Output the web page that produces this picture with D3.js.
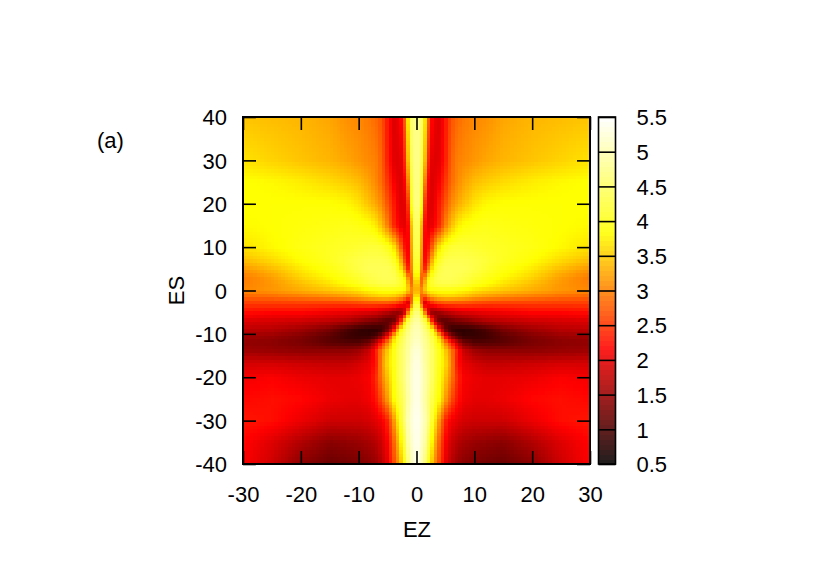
<!DOCTYPE html>
<html>
<head>
<meta charset="utf-8">
<script src="https://cdn.jsdelivr.net/npm/d3@7"></script>
<style>
body { margin: 0; background: #fff; }
text { font-family: "Liberation Sans", Arial, sans-serif; fill: #000; }
</style>
</head>
<body>
<script>
// values; the map is mirror symmetric in EZ
var ezKnots = [0, 0.5, 1, 1.5, 2, 2.5, 3, 4, 5, 6, 7, 8, 10, 12, 15, 20, 25, 30];
var esKnots = [40, 30, 25, 20, 15, 10, 7, 5, 3, 1.5, 0, -1.5, -3, -5, -7, -9, -10.5, -12, -14, -17, -20, -25, -30, -35, -40];
var values = [
    [4.7,4.7,4.5,3.7,2.9,2.3,2.05,1.95,2.3,2.7,2.85,2.95,3.05,3.1,3.25,3.35,3.4,3.45],
    [4.7,4.7,4.3,3.4,2.5,2.05,1.95,2.0,2.35,2.8,3.0,3.05,3.15,3.25,3.35,3.45,3.55,3.65],
    [4.7,4.65,4.1,3.0,2.2,1.95,1.95,2.15,2.5,2.85,3.05,3.2,3.4,3.5,3.6,3.72,3.8,3.85],
    [4.7,4.6,3.9,2.5,2.0,1.95,2.0,2.35,2.7,3.05,3.25,3.4,3.65,3.8,3.85,3.85,3.85,3.85],
    [4.6,4.3,3.2,2.2,2.0,2.0,2.1,2.45,3.0,3.4,3.7,3.85,3.95,4.0,3.95,3.9,3.85,3.8],
    [4.5,4.2,3.0,2.15,2.2,2.6,3.05,3.7,4.0,4.15,4.2,4.2,4.15,4.1,4.05,3.95,3.8,3.65],
    [4.4,4.0,2.9,2.2,2.5,3.1,3.6,4.1,4.3,4.35,4.35,4.35,4.3,4.2,4.05,3.85,3.6,3.4],
    [4.2,3.9,2.8,2.4,3.0,3.5,3.9,4.3,4.4,4.4,4.4,4.4,4.3,4.15,3.95,3.7,3.4,3.15],
    [4.0,3.5,2.6,3.1,3.7,4.0,4.2,4.4,4.4,4.4,4.35,4.3,4.15,4.0,3.8,3.55,3.2,2.95],
    [3.8,3.2,2.8,3.4,3.9,4.1,4.2,4.3,4.3,4.3,4.25,4.2,4.0,3.85,3.65,3.4,3.15,3.0],
    [3.5,3.2,3.1,3.5,3.75,3.85,3.85,3.9,3.9,3.9,3.85,3.8,3.65,3.55,3.45,3.3,3.15,3.05],
    [4.0,3.4,2.6,2.7,3.0,3.2,3.3,3.45,3.5,3.5,3.45,3.4,3.25,3.15,3.05,2.95,2.85,2.8],
    [4.4,3.9,2.6,1.9,2.1,2.3,2.45,2.6,2.65,2.65,2.65,2.65,2.6,2.55,2.55,2.55,2.55,2.55],
    [4.7,4.5,3.9,2.9,1.9,1.5,1.4,1.55,1.7,1.8,1.9,1.95,2.0,2.05,2.1,2.2,2.2,2.25],
    [4.9,4.85,4.6,4.3,3.7,2.8,1.9,1.15,1.1,1.2,1.3,1.35,1.5,1.65,1.75,1.85,1.9,1.95],
    [5.0,5.0,4.85,4.6,4.4,4.1,3.6,2.1,1.2,0.85,0.8,0.8,0.85,1.0,1.3,1.55,1.7,1.75],
    [5.05,5.05,4.9,4.75,4.55,4.35,4.15,3.35,2.2,1.4,1.0,0.85,0.85,0.9,1.1,1.35,1.5,1.55],
    [5.15,5.1,4.95,4.8,4.65,4.45,4.25,3.75,3.05,2.4,1.8,1.3,1.05,1.05,1.1,1.3,1.4,1.45],
    [5.25,5.2,5.05,4.85,4.7,4.55,4.35,3.95,3.5,3.0,2.35,1.85,1.55,1.45,1.45,1.45,1.5,1.55],
    [5.35,5.25,5.1,4.9,4.7,4.55,4.35,3.95,3.6,3.1,2.3,2.05,1.9,1.8,1.8,1.85,1.9,1.9],
    [5.35,5.3,5.15,4.95,4.75,4.55,4.35,3.9,3.45,3.0,2.45,2.15,2.05,2.0,2.0,2.05,2.15,2.1],
    [5.35,5.3,5.1,4.9,4.65,4.4,4.2,3.8,3.2,2.7,2.3,2.1,2.0,2.0,2.05,2.2,2.25,2.2],
    [5.4,5.35,5.2,5.0,4.7,4.3,3.9,3.1,2.4,2.1,2.0,1.9,1.85,1.85,1.85,2.05,2.25,2.3],
    [5.4,5.3,5.1,4.9,4.4,3.95,3.5,2.75,2.15,1.85,1.7,1.6,1.5,1.45,1.4,1.65,1.95,2.2],
    [5.35,5.25,5.0,4.6,4.1,3.6,3.2,2.6,2.0,1.7,1.5,1.4,1.3,1.25,1.2,1.4,1.85,2.15]
];
var ezTicks = [-30, -20, -10, 0, 10, 20, 30];
var esTicks = [-40, -30, -20, -10, 0, 10, 20, 30, 40];
var cbTicks = [0.5, 1, 1.5, 2, 2.5, 3, 3.5, 4, 4.5, 5, 5.5];

var outerWidth = 830;
var outerHeight = 582;
var plotLeft = 243;
var plotRight = 590;
var plotTop = 117;
var plotBottom = 464;
var barLeft = 598.5;
var barRight = 615.5;
var tickLength = 13;
var fontSize = 22;
var cellsPerSide = 100;
var barSteps = 70;

var x = d3.scaleLinear().domain([-30, 30]).range([plotLeft, plotRight]);
var y = d3.scaleLinear().domain([-40, 40]).range([plotBottom, plotTop]);
var cbY = d3.scaleLinear().domain([0.5, 5.5]).range([plotBottom, plotTop]);

// gnuplot's hot palette
var color = d3.scaleLinear()
    .domain([0.5, 0.5 + 5 / 3, 0.5 + 10 / 3, 5.5])
    .range(["#000000", "#ff0000", "#ffff00", "#ffffff"])
    .clamp(true);

// the colour box in the reference is slightly lifted from pure black
function barColor(v) {
    var c = d3.rgb(color(v));
    var lift = function(ch) { return ch + 30 * (1 - ch / 255); };
    return d3.rgb(lift(c.r), lift(c.g), lift(c.b));
}

// the knots are irregular, so each drawn cell shades between its nearest knots
var ezIndex = d3.scaleLinear().domain(ezKnots).range(d3.range(ezKnots.length));
var esIndex = d3.scaleLinear().domain(esKnots).range(d3.range(esKnots.length));
function lookup(ez, es) {
    var a = ezIndex(Math.abs(ez));
    var b = esIndex(es);
    var a0 = Math.min(Math.floor(a), ezKnots.length - 2);
    var b0 = Math.min(Math.floor(b), esKnots.length - 2);
    var top = d3.interpolateNumber(values[b0][a0], values[b0][a0 + 1])(a - a0);
    var bottom = d3.interpolateNumber(values[b0 + 1][a0], values[b0 + 1][a0 + 1])(a - a0);
    return d3.interpolateNumber(top, bottom)(b - b0);
}

var cells = [];
d3.range(cellsPerSide).forEach(function(i) {
    d3.range(cellsPerSide).forEach(function(j) {
        cells.push({ i: i, j: j });
    });
});
var cellEz = d3.scaleLinear().domain([0, cellsPerSide]).range([-30, 30]);
var cellEs = d3.scaleLinear().domain([0, cellsPerSide]).range([40, -40]);

var svg = d3.select("body").append("svg")
    .attr("width", outerWidth)
    .attr("height", outerHeight)
    .style("display", "block");

svg.append("g").selectAll("rect")
    .data(cells)
    .enter()
    .append("rect")
    .attr("shape-rendering", "crispEdges")
    .attr("x", function(d) { return x(cellEz(d.i)); })
    .attr("y", function(d) { return y(cellEs(d.j)); })
    .attr("width", function(d) { return x(cellEz(d.i + 1)) - x(cellEz(d.i)) + 0.5; })
    .attr("height", function(d) { return y(cellEs(d.j + 1)) - y(cellEs(d.j)) + 0.5; })
    .attr("fill", function(d) { return color(lookup(cellEz(d.i + 0.5), cellEs(d.j + 0.5))); });

/******************************
/* colour box
******************************/
var barStep = d3.scaleLinear().domain([0, barSteps]).range([0.5, 5.5]);
svg.append("g").selectAll("rect")
    .data(d3.range(barSteps))
    .enter()
    .append("rect")
    .attr("shape-rendering", "crispEdges")
    .attr("x", barLeft)
    .attr("y", function(d) { return cbY(barStep(d + 1)); })
    .attr("width", barRight - barLeft)
    .attr("height", function(d) { return cbY(barStep(d)) - cbY(barStep(d + 1)) + 0.5; })
    .attr("fill", function(d) { return barColor(barStep(d + 0.5)); });

/******************************
/* axes, ticks on all four sides
******************************/
function plain(d) { return d; }

function styleAxis(g) {
    g.select(".domain").remove();
    g.selectAll(".tick line").attr("stroke", "#000").attr("stroke-width", 1.6);
    g.selectAll(".tick text").style("font-size", fontSize + "px").style("font-family", null);
    g.attr("font-family", null).attr("font-size", null);
}

svg.append("g")
    .attr("transform", "translate(0," + plotBottom + ")")
    .call(d3.axisBottom(x).tickValues(ezTicks).tickFormat(plain).tickSize(-tickLength).tickPadding(30))
    .call(styleAxis);
svg.append("g")
    .attr("transform", "translate(0," + plotTop + ")")
    .call(d3.axisTop(x).tickValues(ezTicks).tickFormat("").tickSize(-tickLength))
    .call(styleAxis);
svg.append("g")
    .attr("transform", "translate(" + plotLeft + ",0)")
    .call(d3.axisLeft(y).tickValues(esTicks).tickFormat(plain).tickSize(-tickLength).tickPadding(16))
    .call(styleAxis);
svg.append("g")
    .attr("transform", "translate(" + plotRight + ",0)")
    .call(d3.axisRight(y).tickValues(esTicks).tickFormat("").tickSize(-tickLength))
    .call(styleAxis);
svg.append("g")
    .attr("transform", "translate(" + barRight + ",0)")
    .call(d3.axisRight(cbY).tickValues(cbTicks).tickFormat(plain).tickSize(-(barRight - barLeft)).tickPadding(21))
    .call(styleAxis);

svg.selectAll(".tick text").attr("dy", "0.35em");

svg.append("rect")
    .attr("x", plotLeft)
    .attr("y", plotTop)
    .attr("width", plotRight - plotLeft)
    .attr("height", plotBottom - plotTop)
    .attr("fill", "none")
    .attr("stroke", "#000")
    .attr("stroke-width", 2);
svg.append("rect")
    .attr("x", barLeft)
    .attr("y", plotTop)
    .attr("width", barRight - barLeft)
    .attr("height", plotBottom - plotTop)
    .attr("fill", "none")
    .attr("stroke", "#000")
    .attr("stroke-width", 1.6);

/******************************
/* labels
******************************/
svg.append("text")
    .attr("x", 417)
    .attr("y", 537)
    .attr("text-anchor", "middle")
    .style("font-size", fontSize + "px")
    .text("EZ");
svg.append("text")
    .attr("transform", "translate(184,290.5) rotate(-90)")
    .attr("text-anchor", "middle")
    .style("font-size", fontSize + "px")
    .text("ES");
svg.append("text")
    .attr("x", 97)
    .attr("y", 148)
    .style("font-size", fontSize + "px")
    .text("(a)");
</script>
</body>
</html>
